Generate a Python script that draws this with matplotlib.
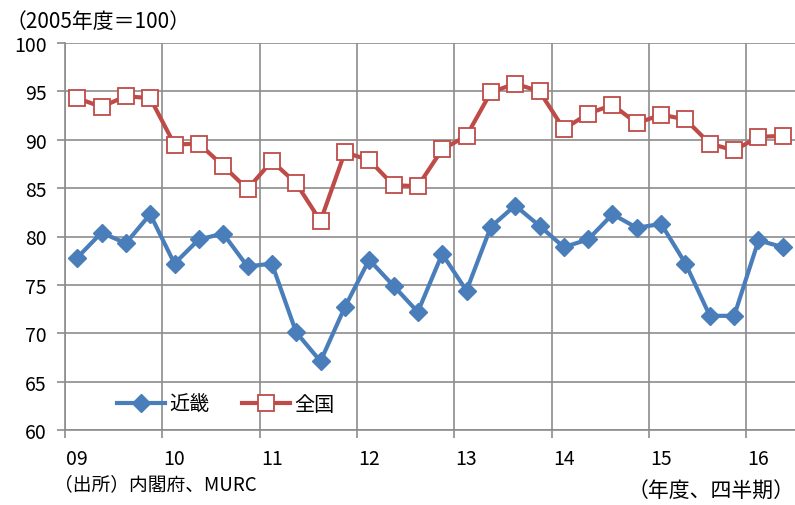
import numpy as np
import matplotlib
matplotlib.use("Agg")
import matplotlib.pyplot as plt
from matplotlib.ticker import FixedLocator

plt.rcParams['font.family'] = ['Noto Sans CJK JP', 'DejaVu Sans']

# ============================================================
# データ（2005年度＝100、四半期）
# ============================================================
year_labels = ["09", "10", "11", "12", "13", "14", "15", "16"]

kinki = [77.8, 80.4, 79.3, 82.3, 77.2, 79.7, 80.3, 76.9,
         77.2, 70.1, 67.1, 72.7, 77.6, 74.9, 72.2, 78.2,
         74.4, 81.0, 83.2, 81.1, 78.9, 79.7, 82.3, 80.9,
         81.3, 77.2, 71.8, 71.8, 79.6, 78.9]

zenkoku = [94.3, 93.4, 94.5, 94.3, 89.5, 89.6, 87.3, 84.9,
           87.8, 85.5, 81.6, 88.7, 87.9, 85.3, 85.2, 89.0,
           90.4, 94.9, 95.8, 95.0, 91.1, 92.7, 93.6, 91.7,
           92.6, 92.1, 89.6, 88.9, 90.3, 90.4]

blue = "#4A7EBB"
red = "#BE4B48"
grid_c = "#8C8C8C"

x = np.arange(len(kinki))

fig = plt.figure(figsize=(7.95, 5.06), dpi=100)
ax = fig.add_axes([65 / 795, 1 - 431 / 506, 1 - 65 / 795, (431 - 44) / 506])

ax.plot(x, kinki, color=blue, lw=3.0, marker="D", ms=9,
        markerfacecolor=blue, markeredgecolor=blue, label="近畿", zorder=3)
ax.plot(x, zenkoku, color=red, lw=3.0, marker="s", ms=11.5,
        markerfacecolor="white", markeredgecolor=red, markeredgewidth=1.3,
        label="全国", zorder=4)

# 軸
ax.set_xlim(-0.5, len(kinki) - 0.5)
ax.set_ylim(60, 100)
ax.set_yticks(np.arange(60, 101, 5))
ax.tick_params(axis="y", labelsize=14, length=6, width=1.2, color=grid_c, pad=7)

# 年の区切り（グリッド）と年ラベル
bounds = np.arange(-0.5, len(kinki), 4)
ax.xaxis.set_minor_locator(FixedLocator(bounds))
ax.set_xticks(np.arange(0, len(kinki), 4))
ax.set_xticklabels(year_labels)
ax.tick_params(axis="x", which="major", length=0, labelsize=14, pad=13)
ax.tick_params(axis="x", which="minor", length=6, width=1.2, color=grid_c)

ax.grid(axis="y", which="major", color=grid_c, lw=1.2)
ax.grid(axis="x", which="minor", color=grid_c, lw=1.2)
ax.set_axisbelow(True)

for s in ["top", "right"]:
    ax.spines[s].set_visible(False)
for s in ["left", "bottom"]:
    ax.spines[s].set_color(grid_c)
    ax.spines[s].set_linewidth(1.2)

ax.legend(loc="center left", bbox_to_anchor=(0.06, 0.067), ncol=2, frameon=False,
          fontsize=14.5, handlelength=2.4, columnspacing=1.6, handletextpad=0.2,
          borderaxespad=0)

# テキスト
fig.text(6 / 795, 1 - 22 / 506, "（2005年度＝100）", fontsize=15, va="center", ha="left")
fig.text(54 / 795, 1 - 485 / 506, "（出所）内閣府、MURC", fontsize=13.5, va="center", ha="left")
fig.text(795 / 795, 1 - 492 / 506, "（年度、四半期）", fontsize=15, va="center", ha="right")

fig.savefig("out.png", dpi=100)
